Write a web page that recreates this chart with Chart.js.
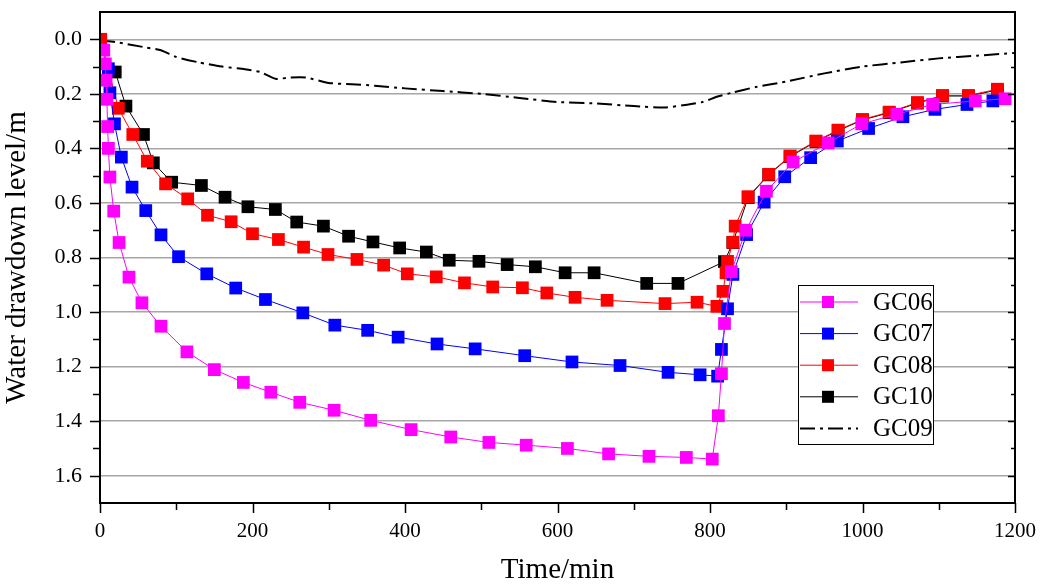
<!DOCTYPE html>
<html>
<head>
<meta charset="utf-8">
<title>Water drawdown</title>
<script src="https://cdn.jsdelivr.net/npm/chart.js@4.4.1/dist/chart.umd.min.js"></script>
<style>
  html, body { margin: 0; padding: 0; background: #fff; }
  #wrap { width: 1043px; height: 588px; }
</style>
</head>
<body>
<div id="wrap"><canvas id="myChart" width="1043" height="588"></canvas></div>
<script>
// time (min) and drawdown (m) for each well
var gc06Time = [5, 7, 8, 9, 10, 11, 13, 18, 25, 38, 55, 80, 114, 150, 188, 224, 262, 307, 355, 408, 460, 510, 559, 613, 667, 720, 769, 803, 811, 815, 819, 828, 847, 874, 909, 955, 999, 1045, 1092, 1148, 1187];
var gc06Level = [0.04, 0.09, 0.15, 0.22, 0.32, 0.40, 0.505, 0.63, 0.745, 0.872, 0.966, 1.052, 1.146, 1.211, 1.258, 1.294, 1.331, 1.36, 1.397, 1.431, 1.458, 1.478, 1.488, 1.50, 1.52, 1.529, 1.533, 1.539, 1.38, 1.226, 1.042, 0.852, 0.70, 0.557, 0.45, 0.38, 0.31, 0.275, 0.239, 0.226, 0.218];

var gc07Time = [11, 13, 19, 28, 42, 60, 80, 103, 140, 178, 217, 266, 308, 351, 391, 442, 492, 557, 619, 682, 745, 787, 810, 815, 823, 830, 848, 871, 898, 932, 967, 1008, 1053, 1095, 1137, 1171];
var gc07Level = [0.108, 0.196, 0.31, 0.432, 0.542, 0.628, 0.717, 0.797, 0.86, 0.912, 0.954, 1.003, 1.048, 1.067, 1.092, 1.117, 1.135, 1.16, 1.183, 1.196, 1.221, 1.23, 1.235, 1.137, 0.988, 0.862, 0.716, 0.597, 0.504, 0.434, 0.373, 0.327, 0.284, 0.257, 0.239, 0.226];

var gc08Time = [1, 24, 43, 62, 86, 115, 141, 172, 200, 234, 267, 299, 337, 372, 403, 441, 478, 515, 554, 586, 623, 665, 741, 783, 809, 817, 821, 823, 830, 833, 850, 877, 905, 939, 968, 1000, 1035, 1072, 1105, 1139, 1177];
var gc08Level = [0.0, 0.253, 0.349, 0.447, 0.53, 0.585, 0.645, 0.669, 0.713, 0.734, 0.762, 0.789, 0.807, 0.828, 0.86, 0.871, 0.893, 0.908, 0.911, 0.93, 0.946, 0.957, 0.969, 0.964, 0.979, 0.924, 0.856, 0.814, 0.744, 0.685, 0.577, 0.495, 0.428, 0.373, 0.333, 0.294, 0.267, 0.232, 0.206, 0.206, 0.183];

var gc10Time = [20, 34, 57, 70, 94, 133, 164, 194, 230, 258, 293, 326, 358, 393, 428, 458, 497, 534, 571, 610, 648, 717, 758, 819, 830, 850, 877, 905, 939, 968, 1000, 1035, 1072, 1105, 1139, 1177];
var gc10Level = [0.12, 0.245, 0.349, 0.453, 0.524, 0.536, 0.579, 0.614, 0.624, 0.67, 0.685, 0.722, 0.743, 0.765, 0.78, 0.81, 0.814, 0.826, 0.834, 0.856, 0.856, 0.895, 0.895, 0.815, 0.745, 0.58, 0.497, 0.43, 0.375, 0.335, 0.296, 0.269, 0.234, 0.208, 0.208, 0.186];

var gc09Time = [0, 20, 60, 80, 100, 130, 160, 190, 210, 230, 250, 270, 300, 330, 360, 400, 450, 500, 550, 600, 650, 700, 740, 770, 790, 810, 830, 860, 900, 950, 1000, 1050, 1100, 1150, 1200];
var gc09Level = [0.005, 0.01, 0.03, 0.04, 0.065, 0.085, 0.1, 0.11, 0.12, 0.145, 0.14, 0.14, 0.16, 0.165, 0.17, 0.18, 0.19, 0.2, 0.215, 0.23, 0.235, 0.245, 0.25, 0.24, 0.23, 0.21, 0.195, 0.175, 0.155, 0.125, 0.1, 0.085, 0.07, 0.06, 0.05];

var xTicks = [0, 200, 400, 600, 800, 1000, 1200];
var yTicks = [0.0, 0.2, 0.4, 0.6, 0.8, 1.0, 1.2, 1.4, 1.6];

var serif = "'Liberation Serif', 'Times New Roman', serif";

function pairs(t, v) {
  var out = [];
  for (var i = 0; i < t.length; i++) out.push({ x: t[i], y: v[i] });
  return out;
}

function isMajorY(value) {
  var k = Math.round(value * 10);
  return yTicks.indexOf(k / 10) !== -1;
}

function series(label, t, v, color) {
  return {
    label: label,
    data: pairs(t, v),
    borderColor: color,
    backgroundColor: color,
    borderWidth: 1,
    pointStyle: 'rect',
    pointRadius: 9,
    pointBorderWidth: 0,
    pointBackgroundColor: color,
    tension: 0
  };
}

var datasets = [
  series('GC06', gc06Time, gc06Level, '#ff00ff'),
  series('GC07', gc07Time, gc07Level, '#0000ff'),
  series('GC08', gc08Time, gc08Level, '#ff0000'),
  series('GC10', gc10Time, gc10Level, '#000000'),
  {
    label: 'GC09',
    data: pairs(gc09Time, gc09Level),
    borderColor: '#000000',
    borderWidth: 2,
    borderDash: [15, 5, 3, 5],
    pointRadius: 0,
    tension: 0.2
  }
];

// axis frame: top/right borders plus tick marks (outward left/bottom, inward right)
var framePlugin = {
  id: 'frame',
  afterDatasetsDraw: function(chart) {
    var ctx = chart.ctx, a = chart.chartArea;
    var xs = chart.scales.x, ys = chart.scales.y;
    ctx.save();
    ctx.strokeStyle = '#000';
    ctx.lineWidth = 2;
    ctx.beginPath();
    ctx.moveTo(a.left, a.top); ctx.lineTo(a.right, a.top);
    ctx.lineTo(a.right, a.bottom);
    ctx.moveTo(a.left, a.top); ctx.lineTo(a.left, a.bottom); ctx.lineTo(a.right, a.bottom);
    ctx.stroke();
    ctx.lineWidth = 1.5;
    ctx.beginPath();
    ys.ticks.forEach(function(t) {
      var k = Math.round(t.value * 10);
      if (k < 0 || k > 16) return;
      var y = Math.round(ys.getPixelForValue(t.value)) + 0.5;
      var len = isMajorY(t.value) ? 10 : 7;
      ctx.moveTo(a.left - len, y); ctx.lineTo(a.left, y);
      ctx.moveTo(a.right - len + 3, y); ctx.lineTo(a.right, y);
    });
    xs.ticks.forEach(function(t) {
      var x = Math.round(xs.getPixelForValue(t.value)) + 0.5;
      var len = (t.value % 200 === 0) ? 10 : 7;
      ctx.moveTo(x, a.bottom); ctx.lineTo(x, a.bottom + len);
    });
    ctx.stroke();
    ctx.restore();
  }
};

// boxed legend with line + marker samples
var legendPlugin = {
  id: 'boxLegend',
  afterDraw: function(chart) {
    var ctx = chart.ctx;
    var left = 798, top = 285, w = 135, h = 159;
    ctx.save();
    ctx.fillStyle = '#fff';
    ctx.fillRect(left, top, w, h);
    ctx.strokeStyle = '#000';
    ctx.lineWidth = 1;
    ctx.strokeRect(left + 0.5, top + 0.5, w, h);
    ctx.font = '25px ' + serif;
    ctx.textBaseline = 'middle';
    chart.data.datasets.forEach(function(ds, i) {
      var y = top + 17 + i * 31.6;
      ctx.save();
      ctx.strokeStyle = ds.borderColor;
      ctx.lineWidth = ds.borderWidth;
      ctx.setLineDash(ds.borderDash || []);
      ctx.beginPath();
      ctx.moveTo(left + 2, y); ctx.lineTo(left + 60, y);
      ctx.stroke();
      ctx.restore();
      if (ds.pointRadius > 0) {
        ctx.fillStyle = ds.pointBackgroundColor;
        ctx.fillRect(left + 24, y - 6, 12, 12);
      }
      ctx.fillStyle = '#000';
      ctx.fillText(ds.label, left + 75, y + 1);
    });
    ctx.restore();
  }
};

var chart = new Chart(document.getElementById('myChart'), {
  type: 'line',
  data: { datasets: datasets },
  plugins: [framePlugin, legendPlugin],
  options: {
    responsive: false,
    animation: false,
    events: [],
    layout: { padding: { top: 12, right: 28, left: 0, bottom: 0 } },
    plugins: { legend: { display: false }, tooltip: { enabled: false } },
    scales: {
      x: {
        type: 'linear',
        min: 0,
        max: 1200,
        afterFit: function(s) { s.height = 85; },
        ticks: {
          stepSize: 100,
          autoSkip: false,
          maxRotation: 0,
          padding: 0,
          color: '#000',
          font: { family: serif, size: 21 },
          callback: function(v) { return xTicks.indexOf(v) !== -1 ? String(v) : ''; }
        },
        // tick marks come from the frame plugin; the transparent ones only space the labels
        grid: { drawOnChartArea: false, drawTicks: true, tickLength: 16, tickColor: 'rgba(0,0,0,0)' },
        border: { color: '#000', width: 2 },
        title: {
          display: true,
          text: 'Time/min',
          color: '#000',
          font: { family: serif, size: 29 },
          padding: { top: 0, bottom: 0 }
        }
      },
      y: {
        type: 'linear',
        reverse: true,
        min: -0.1,
        max: 1.7,
        afterFit: function(s) { s.width = 100; },
        ticks: {
          stepSize: 0.1,
          autoSkip: false,
          padding: 0,
          color: '#000',
          font: { family: serif, size: 22, lineHeight: 1 },
          callback: function(v) { return isMajorY(v) ? (Math.round(v * 10) / 10).toFixed(1) : ''; }
        },
        grid: {
          drawTicks: true,
          tickLength: 18,
          tickColor: 'rgba(0,0,0,0)',
          lineWidth: 1.5,
          color: function(c) { return (c.tick && isMajorY(c.tick.value)) ? '#a6a6a6' : 'rgba(0,0,0,0)'; }
        },
        border: { color: '#000', width: 2 },
        title: {
          display: true,
          text: 'Water drawdown level/m',
          color: '#000',
          font: { family: serif, size: 29 },
          padding: { top: 0, bottom: 4 }
        }
      }
    }
  }
});
</script>
</body>
</html>
